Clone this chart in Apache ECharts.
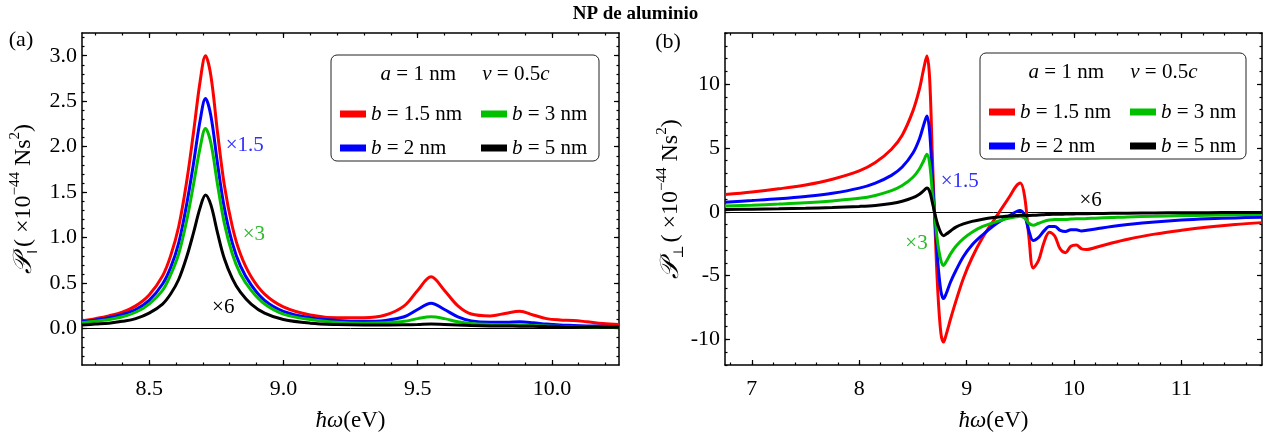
<!DOCTYPE html>
<html><head><meta charset="utf-8">
<script src="https://cdn.jsdelivr.net/npm/echarts@6/dist/echarts.min.js"></script>
<style>html,body{margin:0;padding:0;background:#fff}#c{width:1271px;height:437px}</style>
</head><body><div id="c"></div>
<script>
// ---------- data: panel (a) ----------
const xA = [8.25,8.3,8.35,8.4,8.45,8.5,8.55,8.58,8.61,8.64,8.665,8.69,8.71,8.73,8.755,8.78,8.81,8.84,8.88,8.93,9.0,9.1,9.2,9.3,9.38,9.45,9.5,9.55,9.6,9.65,9.7,9.77,9.83,9.88,9.93,9.98,10.03,10.08,10.13,10.19,10.25];
const aRed   = [0.085,0.11,0.14,0.18,0.25,0.37,0.58,0.8,1.12,1.62,2.15,2.72,3.0,2.78,2.15,1.58,1.12,0.82,0.57,0.38,0.24,0.15,0.12,0.12,0.15,0.25,0.42,0.57,0.42,0.25,0.16,0.14,0.17,0.19,0.15,0.11,0.095,0.09,0.075,0.055,0.045];
const aBlue  = [0.075,0.095,0.12,0.155,0.21,0.31,0.49,0.67,0.94,1.37,1.81,2.29,2.53,2.34,1.81,1.33,0.94,0.69,0.48,0.31,0.19,0.12,0.09,0.08,0.09,0.13,0.21,0.28,0.21,0.13,0.085,0.07,0.07,0.075,0.065,0.05,0.04,0.035,0.03,0.025,0.02];
const aGreen = [0.065,0.08,0.1,0.13,0.18,0.27,0.42,0.59,0.82,1.19,1.58,1.99,2.2,2.04,1.58,1.16,0.82,0.6,0.42,0.27,0.16,0.1,0.07,0.06,0.065,0.08,0.11,0.13,0.11,0.075,0.055,0.045,0.04,0.04,0.035,0.03,0.025,0.022,0.02,0.018,0.015];
const aBlack = [0.04,0.05,0.06,0.08,0.11,0.17,0.27,0.38,0.54,0.79,1.05,1.33,1.47,1.36,1.05,0.77,0.55,0.4,0.27,0.17,0.1,0.06,0.045,0.04,0.04,0.042,0.045,0.05,0.045,0.04,0.035,0.03,0.028,0.027,0.025,0.022,0.02,0.018,0.017,0.016,0.015];

// ---------- data: panel (b) ----------
const xB = [6.75,7.0,7.25,7.5,7.75,8.0,8.15,8.3,8.4,8.5,8.56,8.6,8.63,8.655,8.68,8.7,8.73,8.76,8.785,8.81,8.85,8.9,8.97,9.05,9.15,9.25,9.33,9.4,9.46,9.5,9.54,9.58,9.62,9.67,9.72,9.77,9.82,9.87,9.92,9.97,10.02,10.07,10.12,10.2,10.35,10.5,10.75,11.0,11.25,11.5,11.75];
const bRed   = [1.35,1.55,1.8,2.1,2.55,3.2,3.85,4.9,6.0,7.9,9.6,11.2,12.2,10.5,4.5,0,-6,-9.5,-10.2,-9.6,-8.4,-7.0,-5.2,-3.6,-2.0,-0.7,0.3,1.2,2.0,2.25,1.2,-2.0,-4.4,-3.8,-2.4,-1.6,-1.9,-2.9,-3.2,-2.7,-2.6,-2.9,-2.95,-2.8,-2.45,-2.15,-1.75,-1.45,-1.2,-1.0,-0.85];
const bBlue  = [0.75,0.88,1.02,1.2,1.45,1.85,2.25,2.85,3.5,4.6,5.7,6.8,7.5,6.3,2.8,0,-3.8,-6.2,-6.8,-6.4,-5.5,-4.6,-3.5,-2.6,-1.8,-1.1,-0.65,-0.3,0,0.1,-0.3,-1.5,-2.25,-2.0,-1.5,-1.15,-1.15,-1.45,-1.55,-1.4,-1.4,-1.5,-1.45,-1.35,-1.15,-1.0,-0.8,-0.65,-0.55,-0.48,-0.42];
const bGreen = [0.45,0.52,0.6,0.7,0.85,1.05,1.28,1.65,2.05,2.7,3.35,4.0,4.5,3.8,1.6,0,-2.4,-3.8,-4.2,-3.9,-3.3,-2.7,-2.1,-1.6,-1.15,-0.85,-0.65,-0.5,-0.4,-0.35,-0.5,-0.9,-1.05,-0.9,-0.75,-0.65,-0.6,-0.6,-0.6,-0.57,-0.55,-0.55,-0.53,-0.5,-0.45,-0.4,-0.35,-0.3,-0.27,-0.24,-0.22];
const bBlack = [0.17,0.2,0.23,0.27,0.33,0.42,0.5,0.65,0.82,1.1,1.38,1.65,1.86,1.6,0.75,0,-1.0,-1.65,-1.87,-1.75,-1.5,-1.2,-0.95,-0.75,-0.58,-0.45,-0.38,-0.33,-0.3,-0.28,-0.28,-0.29,-0.28,-0.25,-0.23,-0.21,-0.2,-0.19,-0.18,-0.17,-0.16,-0.15,-0.15,-0.14,-0.12,-0.11,-0.09,-0.08,-0.07,-0.06,-0.05];

const seriesNames = ['b = 1.5 nm','b = 2 nm','b = 3 nm','b = 5 nm'];
const legendOrder = ['b = 1.5 nm','b = 3 nm','b = 2 nm','b = 5 nm'];

// ticks
const aXMajor = [8.5,9.0,9.5,10.0];
const aYMajor = [0.0,0.5,1.0,1.5,2.0,2.5,3.0];
const bXMajor = [7,8,9,10,11];
const bYMajor = [-10,-5,0,5,10];

// annotations: [text, x, y]
const annA = [['×1.5',8.856,2.01],['×3',8.89,1.04],['×6',8.776,0.237]];
const annB = [['×1.5',8.936,2.36],['×3',8.533,-2.47],['×6',10.155,0.92]];

// ---------- layout / style ----------
const FONT = '"Liberation Serif","DejaVu Serif",serif';
const COLORS = ['#ff0000','#0000ff','#00c000','#000000'];
const ANNCOL = ['#3030ff','#30b830','#000000'];

function range(a,b,s){const r=[];for(let v=a;v<=b+1e-9;v+=s)r.push(+v.toFixed(4));return r;}

const gridA = {left:82, top:33, width:537, height:332};
const gridB = {left:725, top:33, width:537, height:332};

const grids = [gridA, gridA, gridB, gridB].map(g => Object.assign({containLabel:false, show:false}, g));

const xAxes = [], yAxes = [];
function axis(gi, pos, min, max, ticks, len, labeled, fmt, extra){
  return Object.assign({
    type:'value', gridIndex:gi, position:pos, min:min, max:max,
    axisLine:{show:len>3, onZero:false, lineStyle:{color:'#000', width:1.5}},
    axisTick:{show:true, inside:true, length:len, customValues:ticks, lineStyle:{color:'#000', width:1.2}},
    axisLabel:{show:labeled, customValues:ticks, formatter:fmt, fontFamily:FONT, fontSize:22, color:'#000',
               margin: (pos==='bottom'?13:5)},
    splitLine:{show:false}
  }, extra||{});
}
const xName = {name:'{i|ħω}{t|(eV)}', nameLocation:'middle', nameGap:44,
  nameTextStyle:{color:'#000', rich:{i:{fontFamily:FONT,fontStyle:'italic',fontSize:23,color:'#000'},t:{fontFamily:FONT,fontSize:23,color:'#000'}}}};
function yName(sub, gap){
  return {name:'{p|𝒫}{s|'+sub+'}{t|( ×10}{u|−44}{t| Ns}{u|2}{t|)}', nameLocation:'middle', nameGap:gap, nameRotate:90,
   nameTextStyle:{color:'#000', rich:{
     p:{fontFamily:FONT,fontStyle:'italic',fontSize:26,color:'#000',lineHeight:32,verticalAlign:'middle'},
     s:{fontFamily:FONT,fontSize:14,color:'#000',lineHeight:32,verticalAlign:'bottom',padding:[0,3,0,1]},
     t:{fontFamily:FONT,fontSize:24,color:'#000',lineHeight:32,verticalAlign:'middle'},
     u:{fontFamily:FONT,fontSize:15,color:'#000',lineHeight:32,verticalAlign:'top'}}}};
}
const f1 = v => v.toFixed(1);
const f0 = v => String(v);

// panel a major (grid 0)
xAxes.push(axis(0,'bottom',8.25,10.25,aXMajor,5,true,f1,xName));
xAxes.push(axis(0,'top',8.25,10.25,aXMajor,5,false,f1));
yAxes.push(axis(0,'left',-0.4,3.25,aYMajor,5,true,f1,yName('‖',42)));
yAxes.push(axis(0,'right',-0.4,3.25,aYMajor,5,false,f1));
// panel a minor (grid 1)
xAxes.push(axis(1,'bottom',8.25,10.25,range(8.3,10.2,0.1),2.5,false,f1));
xAxes.push(axis(1,'top',8.25,10.25,range(8.3,10.2,0.1),2.5,false,f1));
yAxes.push(axis(1,'left',-0.4,3.25,range(-0.3,3.2,0.1),2.5,false,f1));
yAxes.push(axis(1,'right',-0.4,3.25,range(-0.3,3.2,0.1),2.5,false,f1));
// panel b major (grid 2)
xAxes.push(axis(2,'bottom',6.75,11.75,bXMajor,5,true,f0,xName));
xAxes.push(axis(2,'top',6.75,11.75,bXMajor,5,false,f0));
yAxes.push(axis(2,'left',-12,14,bYMajor,5,true,f0,yName('⊥',37)));
yAxes.push(axis(2,'right',-12,14,bYMajor,5,false,f0));
// panel b minor (grid 3)
xAxes.push(axis(3,'bottom',6.75,11.75,range(6.8,11.6,0.2),2.5,false,f0));
xAxes.push(axis(3,'top',6.75,11.75,range(6.8,11.6,0.2),2.5,false,f0));
yAxes.push(axis(3,'left',-12,14,range(-12,14,1),2.5,false,f0));
yAxes.push(axis(3,'right',-12,14,range(-12,14,1),2.5,false,f0));

function zip(xs, ys){return xs.map((x,i)=>[x,ys[i]]);}

const series = [];
function addPanel(xs, sets, xi, yi, ann){
  sets.forEach((ys, k) => {
    const s = {
      type:'line', name:seriesNames[k], xAxisIndex:xi, yAxisIndex:yi,
      data:zip(xs, ys), showSymbol:false, smooth:0.35, clip:true,
      lineStyle:{color:COLORS[k], width:3}, itemStyle:{color:COLORS[k]},
      z: 3+k
    };
    if(k===0){
      s.markLine = {silent:true, symbol:['none','none'], label:{show:false},
        lineStyle:{color:'#000', width:1, type:'solid'}, data:[{yAxis:0}], z:1};
    }
    if(k===3){
      s.markPoint = {symbol:'circle', symbolSize:0, silent:true,
        data: ann.map((a,j)=>({name:a[0], coord:[a[1],a[2]],
          label:{show:true, position:'inside', formatter:a[0], color:ANNCOL[j], fontFamily:FONT, fontSize:21}}))};
    }
    series.push(s);
  });
}
addPanel(xA, [aRed,aBlue,aGreen,aBlack], 0, 0, annA);
addPanel(xB, [bRed,bBlue,bGreen,bBlack], 4, 4, annB);

function legendAt(left, top){
  return {left:left, top:top, width:280, orient:'horizontal', icon:'rect', itemWidth:26, itemHeight:7, itemGap:8,
    selectedMode:false, data:legendOrder,
    formatter: n => '{i|b}' + n.slice(1),
    textStyle:{fontFamily:FONT, fontSize:21, color:'#000', width:102, lineHeight:26,
      rich:{i:{fontFamily:FONT, fontStyle:'italic', fontSize:21, color:'#000'}}}};
}

function legendBox(x, y, w, h){
  return [
    {type:'rect', z:2, shape:{x:x, y:y, width:w, height:h, r:6}, style:{fill:'#fff', stroke:'#222', lineWidth:1}},
    {type:'text', z:10, x:x+w/2, y:y+19, style:{text:'{i|a} = 1 nm     {i|v} = 0.5{i|c}', align:'center', verticalAlign:'middle',
      fontFamily:FONT, fontSize:21, fill:'#000',
      rich:{i:{fontFamily:FONT, fontStyle:'italic', fontSize:21, fill:'#000'}}}}
  ];
}

const graphic = [].concat(
  legendBox(331, 55, 268, 106),
  legendBox(980, 53, 266, 106),
  [{type:'text', x:21, y:40, style:{text:'(a)', align:'center', verticalAlign:'middle', fontFamily:FONT, fontSize:22, fill:'#000'}},
   {type:'text', x:668, y:42, style:{text:'(b)', align:'center', verticalAlign:'middle', fontFamily:FONT, fontSize:22, fill:'#000'}}]
);

const chart = echarts.init(document.getElementById('c'), null, {renderer:'canvas'});
chart.setOption({
  animation:false,
  backgroundColor:'#fff',
  title:{text:'NP de aluminio', left:'center', top:0, textStyle:{fontFamily:FONT, fontWeight:'bold', fontSize:19, color:'#000'}},
  grid:grids, xAxis:xAxes, yAxis:yAxes, series:series,
  legend:[legendAt(335, 96), legendAt(984, 94)],
  graphic:graphic
});
</script></body></html>
